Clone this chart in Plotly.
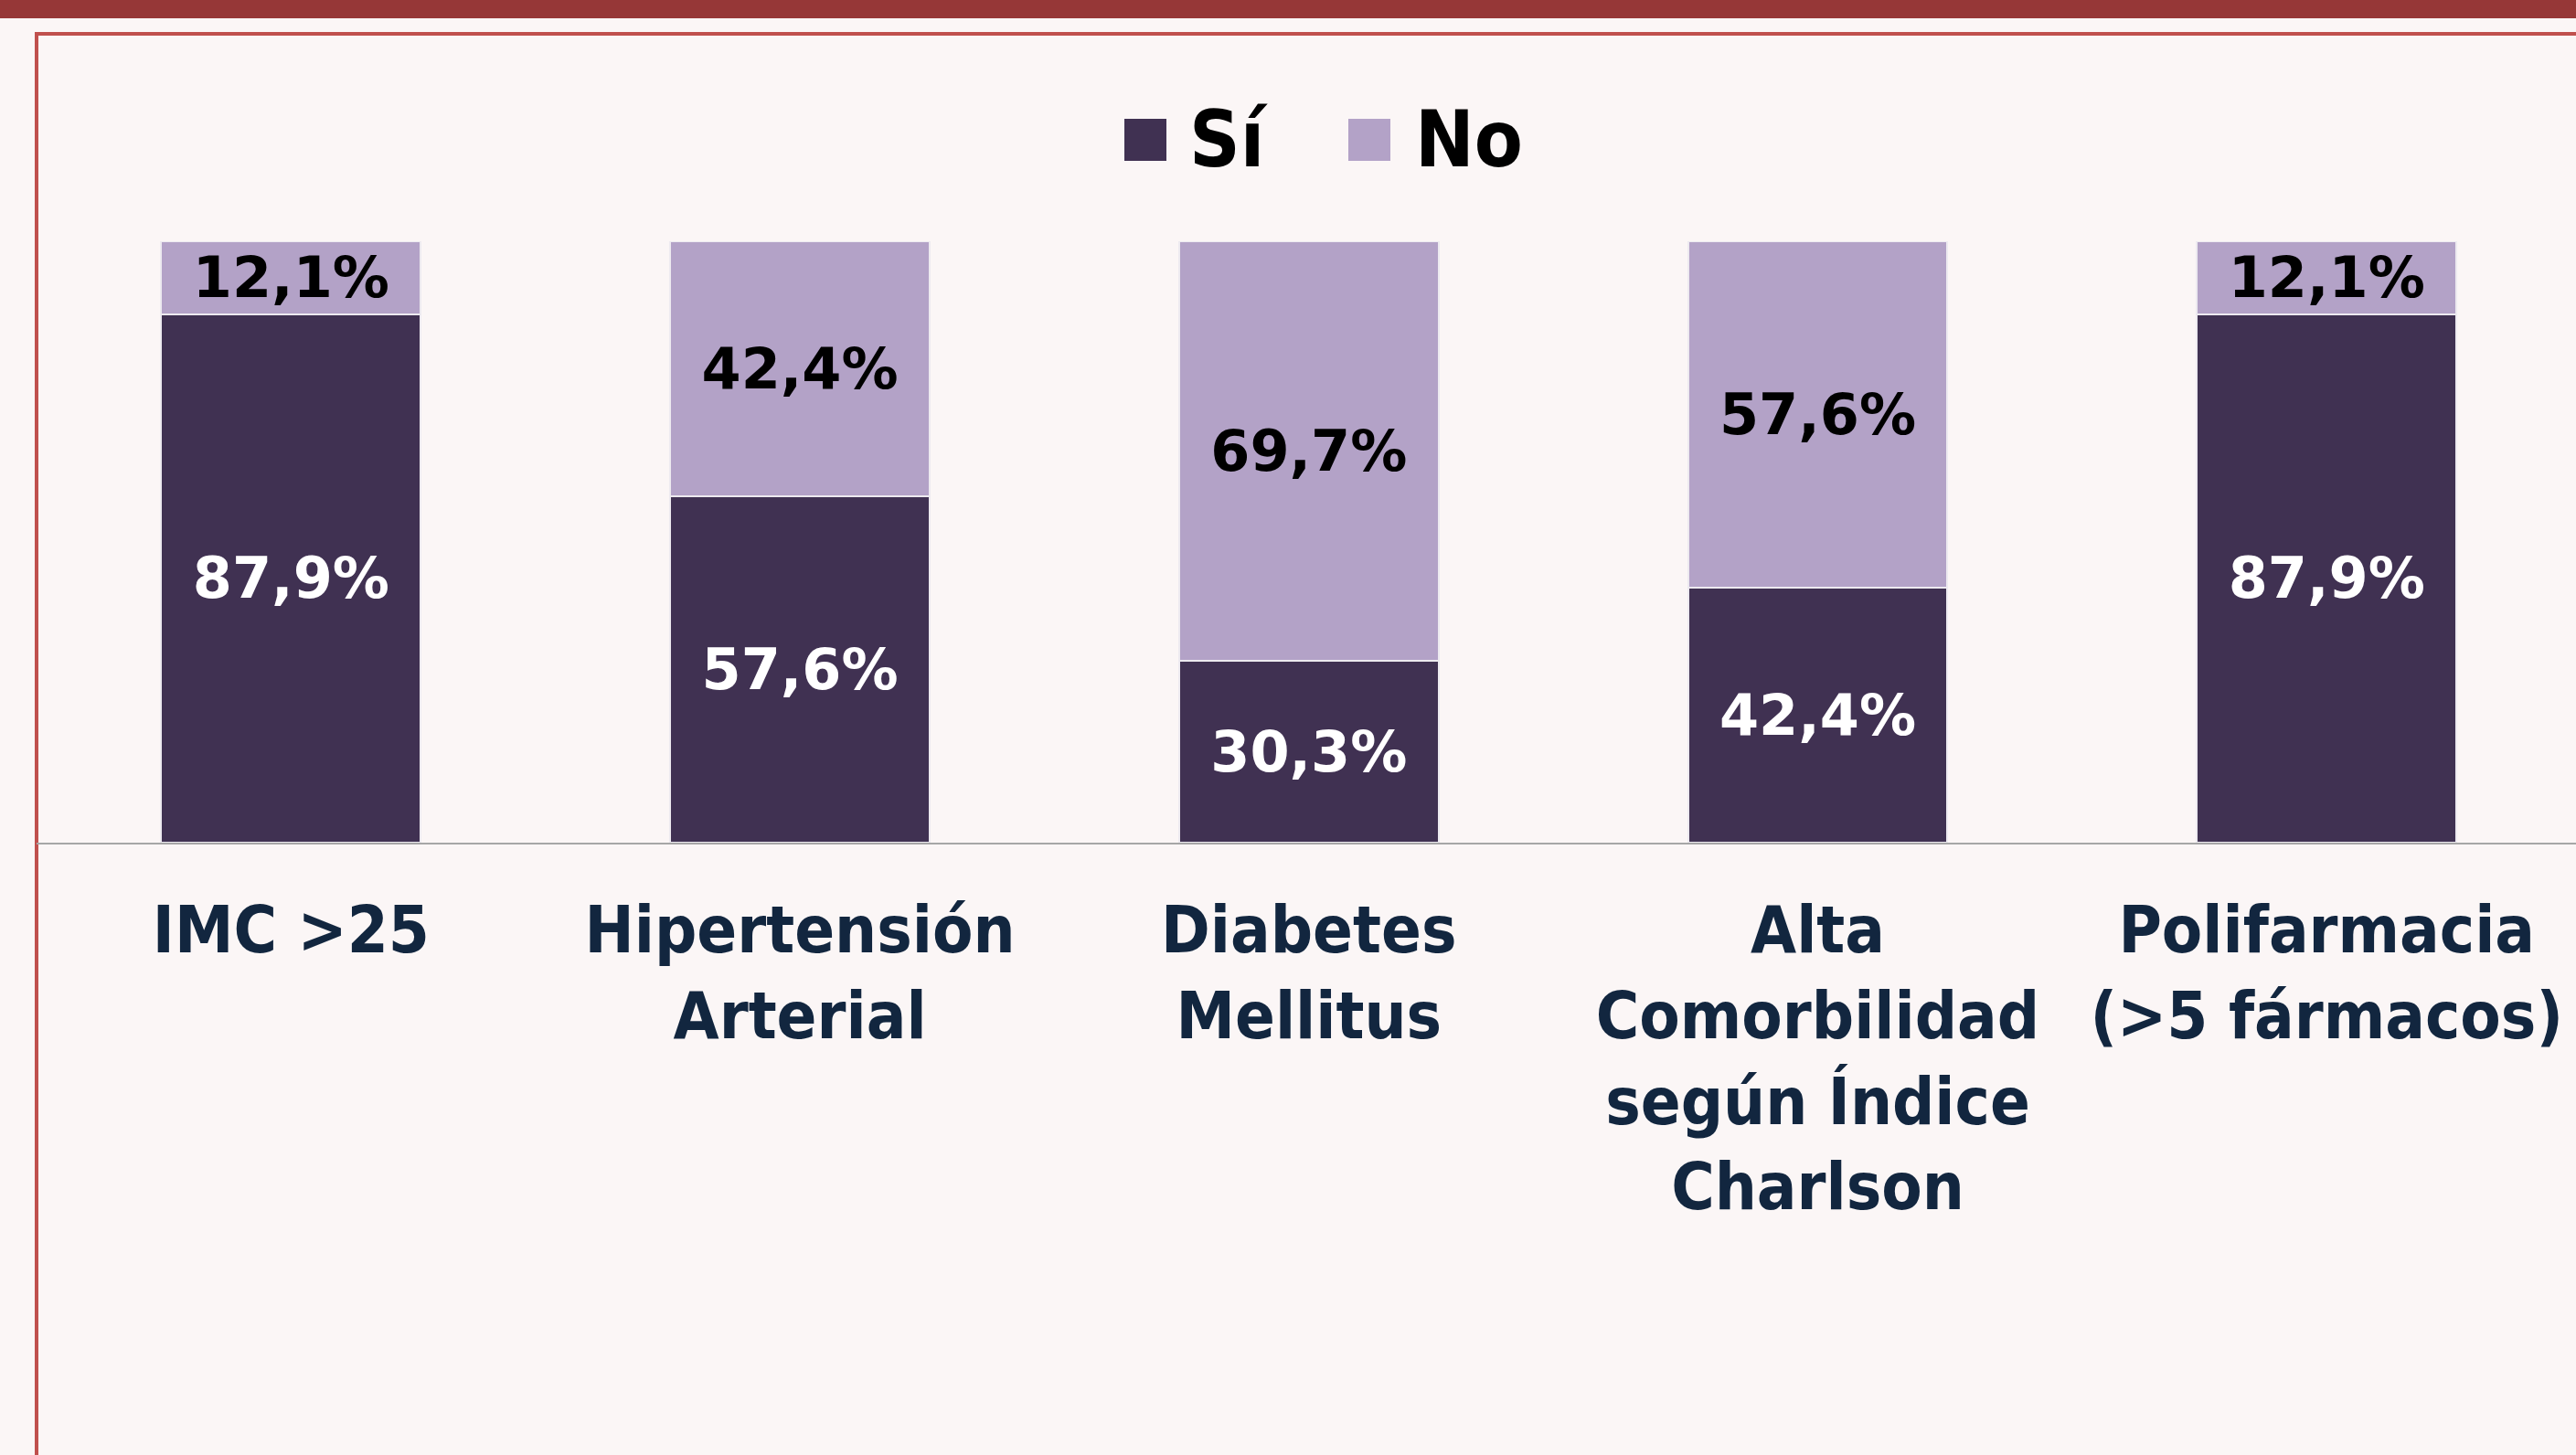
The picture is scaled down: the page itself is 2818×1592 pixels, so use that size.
import plotly.graph_objects as go

categories = ["IMC >25", "Hipertensión<br>Arterial", "Diabetes<br>Mellitus",
              "Alta<br>Comorbilidad<br>según Índice<br>Charlson",
              "Polifarmacia<br>(>5 fármacos)"]
series_names = ["Sí", "No"]
si_values = [87.9, 57.6, 30.3, 42.4, 87.9]
no_values = [12.1, 42.4, 69.7, 57.6, 12.1]

SI_COLOR = "#403152"
NO_COLOR = "#B3A2C7"
FONT = "DejaVu Sans Condensed, DejaVu Sans, Verdana, sans-serif"
LBL_FONT = "DejaVu Sans, Verdana, sans-serif"

W, H = 2818, 1592
L, R, T, B = 40, 0, 264, 670
PW, PH = W - L - R, H - T - B


def px_x(p):
    return (p - L) / PW


def px_y(p):
    return (H - B - p) / PH


fig = go.Figure()
fig.add_trace(go.Bar(
    x=categories, y=si_values, name=series_names[0],
    marker=dict(color=SI_COLOR, line=dict(color="#EDEAF0", width=2)),
    texttemplate="%{y:.1f}%", textposition="inside", insidetextanchor="middle",
    constraintext="none",
    textfont=dict(family=LBL_FONT, size=62, color="white", weight="bold"),
    showlegend=False,
))
fig.add_trace(go.Bar(
    x=categories, y=no_values, name=series_names[1],
    marker=dict(color=NO_COLOR, line=dict(color="#EDEAF0", width=2)),
    texttemplate="%{y:.1f}%", textposition="inside", insidetextanchor="middle",
    constraintext="none",
    textfont=dict(family=LBL_FONT, size=62, color="black", weight="bold"),
    showlegend=False,
))

shapes = [
    # top dark band
    dict(type="rect", xref="paper", yref="paper", x0=-0.1, x1=1.1,
         y0=px_y(20), y1=px_y(-10), fillcolor="#963737", line=dict(width=0), layer="below"),
    # red frame
    dict(type="rect", xref="paper", yref="paper", x0=px_x(40), x1=1.05,
         y0=-3, y1=px_y(37), fillcolor="rgba(0,0,0,0)",
         line=dict(color="#C0504D", width=4), layer="below"),
]
annotations = []
legend_items = [(series_names[0], SI_COLOR, 1230, 1299), (series_names[1], NO_COLOR, 1475, 1546)]
for name, color, sq_x, tx_x in legend_items:
    shapes.append(dict(type="rect", xref="paper", yref="paper",
                       x0=px_x(sq_x), x1=px_x(sq_x + 46), y0=px_y(176), y1=px_y(130),
                       fillcolor=color, line=dict(width=0)))
    annotations.append(dict(xref="paper", yref="paper", x=px_x(tx_x), y=px_y(152),
                            xanchor="left", yanchor="middle", showarrow=False,
                            text=name, font=dict(family=FONT, size=86, color="black", weight="bold")))

fig.update_layout(
    width=W, height=H,
    margin=dict(l=L, r=R, t=T, b=B, pad=0),
    barmode="stack", bargap=0.49,
    separators=",.",
    paper_bgcolor="#FBF6F6", plot_bgcolor="rgba(0,0,0,0)",
    shapes=shapes, annotations=annotations,
    xaxis=dict(showline=True, linecolor="#A6A6A6", linewidth=2, showgrid=False,
               range=[-0.5, 4.49],
               ticks="", tickfont=dict(family=FONT, size=72, color="#12263F", weight="bold"),
               ticklabelstandoff=32),
    yaxis=dict(range=[0, 100], visible=False, showgrid=False),
)

fig.write_html("out.html", config={"displayModeBar": False},
               post_script="document.body.style.margin='0';document.body.style.background='#FBF6F6';")
